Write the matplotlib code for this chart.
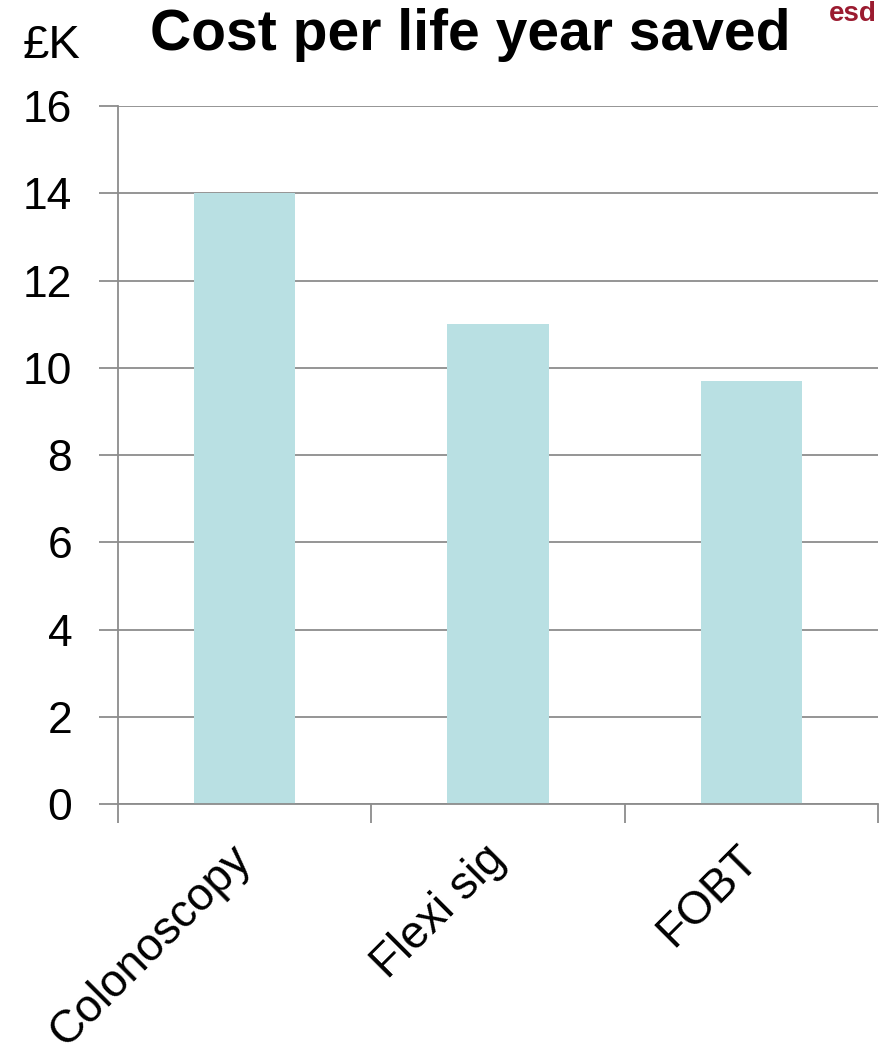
import matplotlib.pyplot as plt
import numpy as np

plt.rcParams['font.family'] = ['Liberation Sans', 'DejaVu Sans']

categories = ['Colonoscopy', 'Flexi sig', 'FOBT']
cost_k = [14.0, 11.0, 9.7]
yticks = [0, 2, 4, 6, 8, 10, 12, 14, 16]

fig = plt.figure(figsize=(8.87, 10.54), dpi=100)
ax = fig.add_axes([0.133, 0.2372, 0.857, 0.6622])

x = np.arange(len(categories))
ax.bar(x, cost_k, width=0.4, color='#b9e0e3', zorder=2)

ax.set_xlim(-0.5, 2.5)
ax.set_ylim(0, 16)
ax.set_yticks(yticks)
ax.yaxis.grid(True, color='#8c8c8c', linewidth=1.3, zorder=0)
ax.set_xticks([-0.5, 0.5, 1.5, 2.5], minor=False)
ax.set_xticklabels([])
ax.set_xticks(x, minor=True)
ax.set_xticklabels(categories, minor=True, rotation=45, ha='right', va='center',
                   rotation_mode='anchor', fontsize=33)
ax.tick_params(axis='x', which='minor', length=0, pad=35)
ax.tick_params(axis='x', which='major', length=14, width=1.3, color='#8c8c8c')
ax.tick_params(axis='y', length=14, width=1.3, color='#8c8c8c', labelsize=32, pad=19)

for side in ['top', 'right']:
    ax.spines[side].set_visible(False)
ax.spines['left'].set_color('#8c8c8c')
ax.spines['left'].set_linewidth(1.3)
ax.spines['bottom'].set_color('#8c8c8c')
ax.spines['bottom'].set_linewidth(1.3)

fig.text(0.530, 0.9526, 'Cost per life year saved', ha='center', va='baseline',
         fontsize=41, fontweight='bold')
fig.text(0.025, 0.945, '£K', ha='left', va='baseline', fontsize=34)
fig.text(0.935, 0.999, 'esd', ha='left', va='top', fontsize=20,
         color='#9b1b30', fontweight='bold')

fig.savefig('out.png', dpi=100)
